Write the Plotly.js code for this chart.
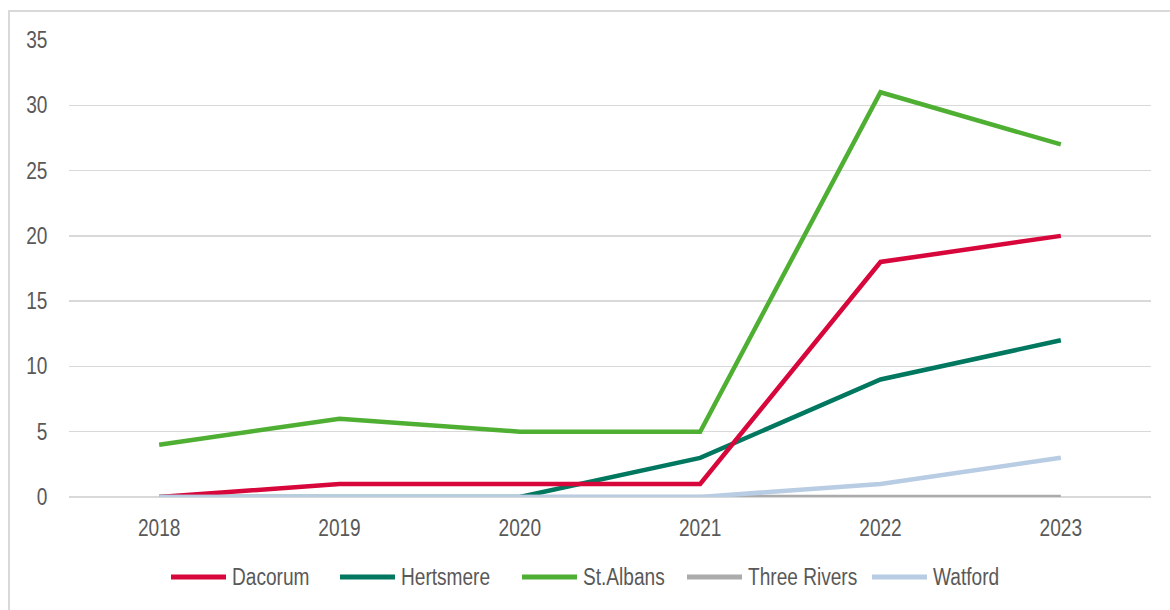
<!DOCTYPE html>
<html>
<head>
<meta charset="utf-8">
<script src="https://cdn.plot.ly/plotly-3.0.1.min.js"></script>
<style>
html,body{margin:0;padding:0;background:#fff;overflow:hidden;}
#chart{width:1170px;height:610px;position:absolute;left:0;top:0;}
#frame{position:absolute;left:8px;top:10px;width:1300px;height:800px;border:2px solid #d9d9d9;pointer-events:none;}
</style>
</head>
<body>
<div id="chart"></div>
<div id="frame"></div>
<script>
const years = ['2018','2019','2020','2021','2022','2023'];
const seriesNames = ['Dacorum','Hertsmere','St.Albans','Three Rivers','Watford'];
const dacorum    = [0, 1, 1, 1, 18, 20];
const hertsmere  = [0, 0, 0, 3, 9, 12];
const stAlbans   = [4, 6, 5, 5, 31, 27];
const threeRivers= [0, 0, 0, 0, 0, 0];
const watford    = [0, 0, 0, 0, 1, 3];
const yTicks = [0, 5, 10, 15, 20, 25, 30, 35];

const colors = ['#D7063B', '#00775F', '#4EAF32', '#ABABAB', '#B8CCE4'];
const values = [dacorum, hertsmere, stAlbans, threeRivers, watford];
const FONT = 'Liberation Sans, Arial, sans-serif';
const TXT = '#595959';
const FS = 23;
const CONDENSE = 0.83;

// draw order: Hertsmere below Dacorum
const order = [1, 0, 2, 3, 4];
const traces = order.map(i => ({
  type: 'scatter', mode: 'lines', x: years, y: values[i], name: seriesNames[i],
  line: {color: colors[i], width: 4.5, shape: 'linear'},
  cliponaxis: false, showlegend: false, hoverinfo: 'skip'
}));

// plot area geometry (px)
const L = 69, R = 1151, T = 40, B = 497;
const W = R - L, H = B - T;
const px2x = p => (p - L) / W;
const py2y = p => (B - p) / H;

// custom legend
const legLineStart = [171, 340, 522, 687, 872];
const legLineLen = 55;
const legY = 577;
const shapes = [], annotations = [];
seriesNames.forEach((n, i) => {
  shapes.push({type: 'line', xref: 'paper', yref: 'paper',
    x0: px2x(legLineStart[i]), x1: px2x(legLineStart[i] + legLineLen),
    y0: py2y(legY), y1: py2y(legY),
    line: {color: colors[i], width: 5}});
  annotations.push({xref: 'paper', yref: 'paper', x: px2x(legLineStart[i] + legLineLen + 4), y: py2y(legY),
    xanchor: 'left', yanchor: 'middle', text: n, showarrow: false,
    font: {family: FONT, size: FS, color: TXT}});
});

const layout = {
  width: 1170, height: 610,
  margin: {l: L, r: 1170 - R, t: T, b: 610 - B, pad: 0},
  paper_bgcolor: '#ffffff', plot_bgcolor: '#ffffff',
  showlegend: false,
  font: {family: FONT, size: FS, color: TXT},
  xaxis: {type: 'category', range: [-0.5, 5.5], showgrid: false, zeroline: false,
    showline: false, ticks: 'outside', ticklen: 10, tickcolor: 'rgba(0,0,0,0)',
    tickfont: {family: FONT, size: FS, color: TXT}, fixedrange: true},
  yaxis: {range: [0, 35], tickvals: yTicks, ticktext: yTicks.map(String),
    showgrid: true, gridcolor: '#D9D9D9', gridwidth: 1.5,
    zeroline: true, zerolinecolor: '#D9D9D9', zerolinewidth: 1.5, showline: false,
    ticks: 'outside', ticklen: 16, tickcolor: 'rgba(0,0,0,0)',
    tickfont: {family: FONT, size: FS, color: TXT}, fixedrange: true},
  shapes: shapes, annotations: annotations
};

Plotly.newPlot('chart', traces, layout, {displayModeBar: false, staticPlot: true}).then(gd => {
  // emulate the narrow typeface of the original by horizontally condensing text
  gd.querySelectorAll('text').forEach(t => {
    const w = t.getComputedTextLength();
    if (!w) return;
    t.setAttribute('textLength', (w * CONDENSE).toFixed(2));
    t.setAttribute('lengthAdjust', 'spacingAndGlyphs');
    if (t.closest('.annotation')) {
      // keep legend labels left-aligned next to their line
      const x = parseFloat(t.getAttribute('x')) || 0;
      t.setAttribute('x', (x - w * (1 - CONDENSE) / 2).toFixed(2));
    }
  });
});
</script>
</body>
</html>
